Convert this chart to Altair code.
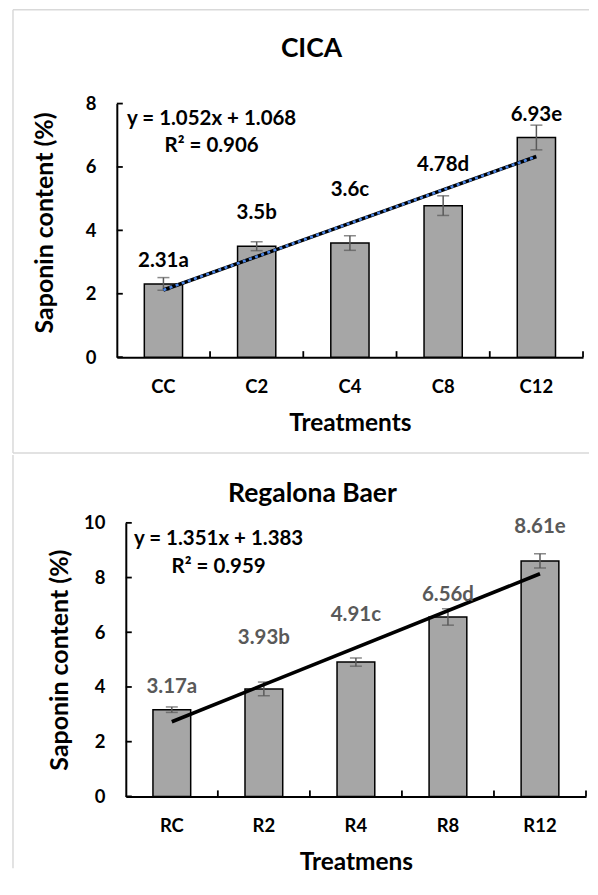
import altair as alt
import pandas as pd

FONT = "Lato"

# ---------------- data: CICA ----------------
cica_cat = ["CC", "C2", "C4", "C8", "C12"]
cica_val = [2.31, 3.5, 3.6, 4.78, 6.93]
cica_err = [0.20, 0.14, 0.23, 0.31, 0.39]
cica_lab = ["2.31a", "3.5b", "3.6c", "4.78d", "6.93e"]
cica_lab_y = [3.04, 4.56, 5.27, 6.06, 7.63]
cica_trend_cat = ["CC", "C12"]
cica_trend_val = [2.12, 6.33]
cica_ticks = [0, 2, 4, 6, 8]

# ---------------- data: Regalona Baer ----------------
reg_cat = ["RC", "R2", "R4", "R8", "R12"]
reg_val = [3.17, 3.93, 4.91, 6.56, 8.61]
reg_err = [0.10, 0.25, 0.15, 0.30, 0.26]
reg_lab = ["3.17a", "3.93b", "4.91c", "6.56d", "8.61e"]
reg_lab_y = [4.01, 5.78, 6.63, 7.38, 9.84]
reg_trend_cat = ["RC", "R12"]
reg_trend_val = [2.73, 8.14]
reg_ticks = [0, 2, 4, 6, 8, 10]

PAD_IN = 0.59


def panel(cats, vals, errs, labs, lab_y, tcat, tval, ticks, ymax, W, H,
          title, title_pos, eq_text, eq_pos, xtitle, ytitle_pos,
          label_color, dotted, borders):
    df = pd.DataFrame({
        "cat": cats, "val": vals,
        "lo": [v - e for v, e in zip(vals, errs)],
        "hi": [v + e for v, e in zip(vals, errs)],
        "lab": labs, "laby": lab_y,
    })
    tdf = pd.DataFrame({"cat": tcat, "val": tval})
    xs = alt.Scale(domain=cats, paddingInner=PAD_IN, paddingOuter=PAD_IN / 2)
    ys = alt.Scale(domain=[0, ymax], nice=False)
    base = alt.Chart(df)

    bars = base.mark_bar(color="#A6A6A6", stroke="#000000", strokeWidth=1.5).encode(
        x=alt.X("cat:N", sort=cats, scale=xs, axis=alt.Axis(
            title=xtitle, orient="bottom", ticks=False, labelAngle=0,
            domainColor="#000000", domainWidth=2, labelFontSize=18.5,
            labelPadding=20, titleFontSize=24.5, titleY=66,
            titleBaseline="middle")),
        y=alt.Y("val:Q", scale=ys, axis=alt.Axis(
            title="Saponin content (%)", orient="left", values=ticks,
            ticks=False, domainColor="#000000", domainWidth=2,
            labelFontSize=18.5, labelPadding=21, titleFontSize=25,
            titleX=ytitle_pos[0], titleY=ytitle_pos[1], titleAngle=270,
            titleBaseline="middle", titleAlign="center")),
    )

    xn = alt.X("cat:N", sort=cats, scale=xs, axis=None)

    # inward tick marks (drawn as rules through the scales)
    tdf_y = pd.DataFrame({"v": ticks})
    ytick = alt.Chart(tdf_y).mark_rule(color="#000000", strokeWidth=1.8).encode(
        y=alt.Y("v:Q", scale=ys, axis=None), x=alt.value(0), x2=alt.value(6))
    gap = PAD_IN * (W / len(cats)) / 2
    xtick = base.mark_rule(color="#000000", strokeWidth=1.8, xOffset=gap).encode(
        x=alt.X("cat:N", sort=cats, scale=xs, axis=None, bandPosition=1),
        y=alt.value(H), y2=alt.value(H - 6))

    err_rule = base.mark_rule(color="#595959", strokeWidth=1.5).encode(
        x=xn, y=alt.Y("lo:Q", scale=ys, axis=None), y2="hi:Q")
    cap_hi = base.mark_tick(color="#595959", thickness=1.5, size=12).encode(
        x=xn, y=alt.Y("hi:Q", scale=ys, axis=None))
    cap_lo = base.mark_tick(color="#595959", thickness=1.5, size=12).encode(
        x=xn, y=alt.Y("lo:Q", scale=ys, axis=None))

    trend = alt.Chart(tdf).mark_line(color="#000000", strokeWidth=3.6).encode(
        x=xn, y=alt.Y("val:Q", scale=ys, axis=None))
    layers = [bars, ytick, xtick, err_rule, cap_hi, cap_lo, trend]
    if dotted:
        layers.append(alt.Chart(tdf).mark_line(
            color="#4A86E8", strokeWidth=2.6, strokeDash=[3, 3.5]).encode(
            x=xn, y=alt.Y("val:Q", scale=ys, axis=None)))

    labels = base.mark_text(font=FONT, fontWeight="bold", fontSize=20.5,
                            color=label_color, baseline="middle").encode(
        x=xn, y=alt.Y("laby:Q", scale=ys, axis=None), text="lab:N")
    layers.append(labels)

    one = pd.DataFrame({"t": [title]})
    layers.append(alt.Chart(one).mark_text(
        font=FONT, fontWeight="bold", fontSize=26.5, color="#000000",
        baseline="middle", align="center").encode(
        x=alt.value(title_pos[0]), y=alt.value(title_pos[1]), text="t:N"))

    eq = pd.DataFrame({"t": [eq_text]})
    layers.append(alt.Chart(eq).mark_text(
        font=FONT, fontWeight="bold", fontSize=20.5, color="#000000",
        baseline="middle", align="center", lineBreak="\n",
        lineHeight=28).encode(
        x=alt.value(eq_pos[0]), y=alt.value(eq_pos[1]), text="t:N"))

    bdf = pd.DataFrame({"k": [0]})
    for (x1, x2, y1, y2) in borders:
        enc = dict(x=alt.value(x1), y=alt.value(y1))
        if x2 is not None:
            enc["x2"] = alt.value(x2)
        if y2 is not None:
            enc["y2"] = alt.value(y2)
        layers.append(alt.Chart(bdf).mark_rule(
            color="#D9D9D9", strokeWidth=1.5).encode(**enc))

    return alt.layer(*layers).resolve_axis(
        x="independent", y="independent").properties(width=W, height=H)


def spacer():
    return alt.Chart(pd.DataFrame({"k": [0]})).mark_rect(opacity=0).encode(
        x=alt.value(0), x2=alt.value(1), y=alt.value(0), y2=alt.value(1)
    ).properties(width=1, height=1)


top = panel(
    cica_cat, cica_val, cica_err, cica_lab, cica_lab_y, cica_trend_cat,
    cica_trend_val, cica_ticks, 8, 467, 254,
    "CICA", (195, -55), "y = 1.052x + 1.068\nR\u00b2 = 0.906", (95, 15),
    "Treatments", (-72, 119), "#000000", True,
    [(-104, None, -94, 350), (-104, 473, -94, None), (-104, 473, 350, None)],
)

bottom = panel(
    reg_cat, reg_val, reg_err, reg_lab, reg_lab_y, reg_trend_cat,
    reg_trend_val, reg_ticks, 10, 461, 274,
    "Regalona Baer", (187, -29), "y = 1.351x + 1.383\nR\u00b2 = 0.959", (93, 16),
    "Treatmens", (-66, 137), "#595959", False,
    [(-113, None, -68, 346)],
)

row_top = alt.hconcat(spacer(), top, spacing=0)
row_bot = alt.hconcat(spacer(), bottom, spacing=0)

chart = alt.vconcat(row_top, row_bot, spacing=0).properties(
    padding={"left": 3, "top": 0, "right": 0, "bottom": 0}
).configure_view(stroke=None).configure_axis(
    labelFont=FONT, titleFont=FONT, labelFontWeight="bold",
    titleFontWeight="bold", labelColor="#000000", titleColor="#000000",
    grid=False,
).configure_text(font=FONT)

chart.save("out.html", embed_options={"renderer": "svg", "actions": False})
